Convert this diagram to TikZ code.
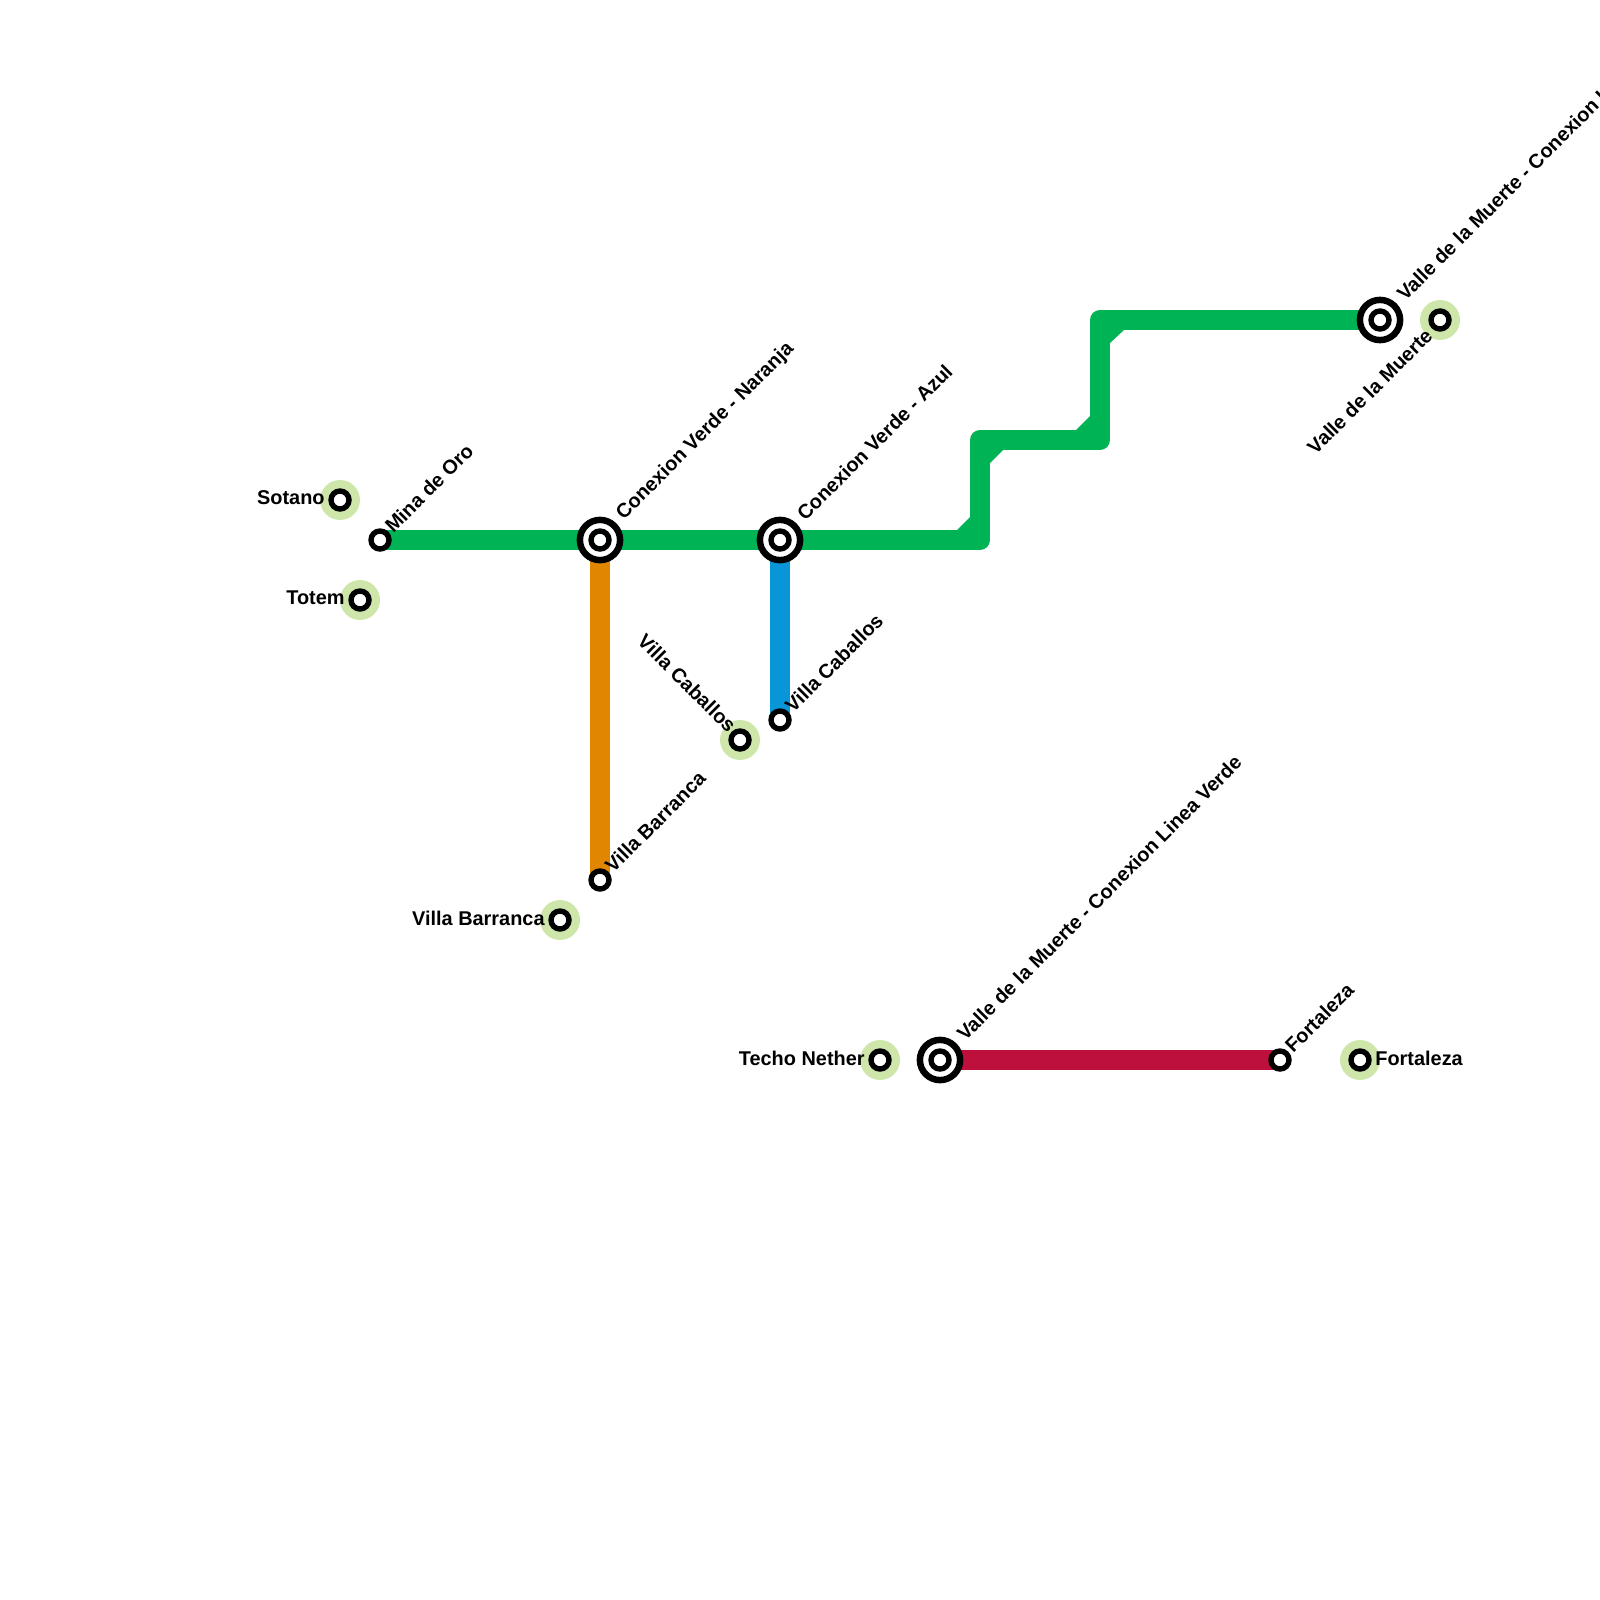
\documentclass[tikz,border=0pt]{standalone}
\usepackage{fontspec}
\setmainfont{Liberation Sans}
\usetikzlibrary{backgrounds}
\definecolor{linegreen}{RGB}{0,179,84}
\definecolor{lineorange}{RGB}{224,134,0}
\definecolor{lineblue}{RGB}{9,150,216}
\definecolor{linered}{RGB}{189,16,60}
\definecolor{halogreen}{RGB}{207,230,170}
\tikzset{
  metro line/.style={line width=10pt, line join=round},
  small stop/.style={
    circle, draw=black, fill=white, line width=2.7pt,
    minimum size=9pt, inner sep=0pt,
  },
  big stop/.style={
    circle, draw=black, fill=white, line width=3.25pt,
    minimum size=20.1pt, inner sep=0pt,
  },
  halo/.style={circle, fill=halogreen, minimum size=20pt, inner sep=0pt},
  stop label/.style={font=\bfseries\fontsize{9.95}{12}\selectfont, inner sep=0pt},
  up label/.style={stop label, rotate=45, anchor=west},
  left label/.style={stop label, anchor=east},
}

\begin{document}
\begin{tikzpicture}[x=0.5pt,y=-0.5pt]
  \useasboundingbox (0,0) rectangle (1600,1600);

  % stops outside the network
  \node[halo] (sotanohalo) at (340,500) {};
  \node[small stop] (sotano) at (340,500) {};
  \node[halo] (totemhalo) at (360,600) {};
  \node[small stop] (totem) at (360,600) {};
  \node[halo] (barrancahalo) at (560,920) {};
  \node[small stop] (barranca) at (560,920) {};
  \node[halo] (caballoshalo) at (740,740) {};
  \node[small stop] (caballos) at (740,740) {};
  \node[halo] (netherhalo) at (880,1060) {};
  \node[small stop] (nether) at (880,1060) {};
  \node[halo] (fortalezahalo) at (1360,1060) {};
  \node[small stop] (fortaleza) at (1360,1060) {};
  \node[halo] (muertehalo) at (1440,320) {};
  \node[small stop] (muerte) at (1440,320) {};

  % stops on the lines
  \node[small stop] (mina) at (380,540) {};
  \node[small stop] (endbarranca) at (600,880) {};
  \node[small stop] (endcaballos) at (780,720) {};
  \node[small stop] (endfortaleza) at (1280,1060) {};
  \foreach \name/\pos in {naranja/{(600,540)}, azul/{(780,540)}, muertelinea/{(940,1060)}, muerteverde/{(1380,320)}} {
    \node[big stop] (\name) at \pos {};
    \node[small stop] (\name inner) at \pos {};
  }

  % bends of the green line
  \coordinate (bendA) at (980,540);
  \coordinate (bendB) at (980,440);
  \coordinate (bendC) at (1100,440);
  \coordinate (bendD) at (1100,320);

  \begin{scope}[on background layer]
    \draw[metro line, draw=linegreen] (mina.center) -- (naranja.center) -- (azul.center) -- (bendA) -- (bendB) -- (bendC) -- (bendD) -- (muerteverde.center);
    \fill[linegreen] (957,530) -- (970,517) -- (970,530) -- cycle;
    \fill[linegreen] (1003,450) -- (990,463) -- (990,450) -- cycle;
    \fill[linegreen] (1076,430) -- (1090,416) -- (1090,430) -- cycle;
    \fill[linegreen] (1124,330) -- (1110,343) -- (1110,330) -- cycle;
    \draw[metro line, draw=lineorange] (naranja.center) -- (endbarranca.center);
    \draw[metro line, draw=lineblue] (azul.center) -- (endcaballos.center);
    \draw[metro line, draw=linered] (muertelinea.center) -- (endfortaleza.center);
  \end{scope}

  % labels
  \node[left label] (sotanotext) at (325,498) {Sotano};
  \node[left label] (totemtext) at (345,598) {Totem};
  \node[left label] (barrancatext) at (545,918) {Villa Barranca};
  \node[left label] (nethertext) at (865,1058) {Techo Nether};
  \node[stop label, anchor=west] (fortalezatext) at (1375,1058) {Fortaleza};
  \node[stop label, rotate=-45, anchor=east] (caballostext) at (733,729) {Villa Caballos};
  \node[stop label, rotate=45, anchor=east] (muertetext) at (1429,332) {Valle de la Muerte};
  \node[up label] (minatext) at (388,529) {Mina de Oro};
  \node[up label] (naranjatext) at (620,517) {Conexion Verde - Naranja};
  \node[up label] (azultext) at (800,517) {Conexion Verde - Azul};
  \node[up label] (endcaballostext) at (788,709) {Villa Caballos};
  \node[up label] (endbarrancatext) at (608,869) {Villa Barranca};
  \node[up label] (lineatext) at (960,1037) {Valle de la Muerte - Conexion Linea Verde};
  \node[up label] (endfortalezatext) at (1288,1049) {Fortaleza};
  \node[up label] (verdetext) at (1400,297) {Valle de la Muerte - Conexion Linea Verde};
\end{tikzpicture}
\end{document}
